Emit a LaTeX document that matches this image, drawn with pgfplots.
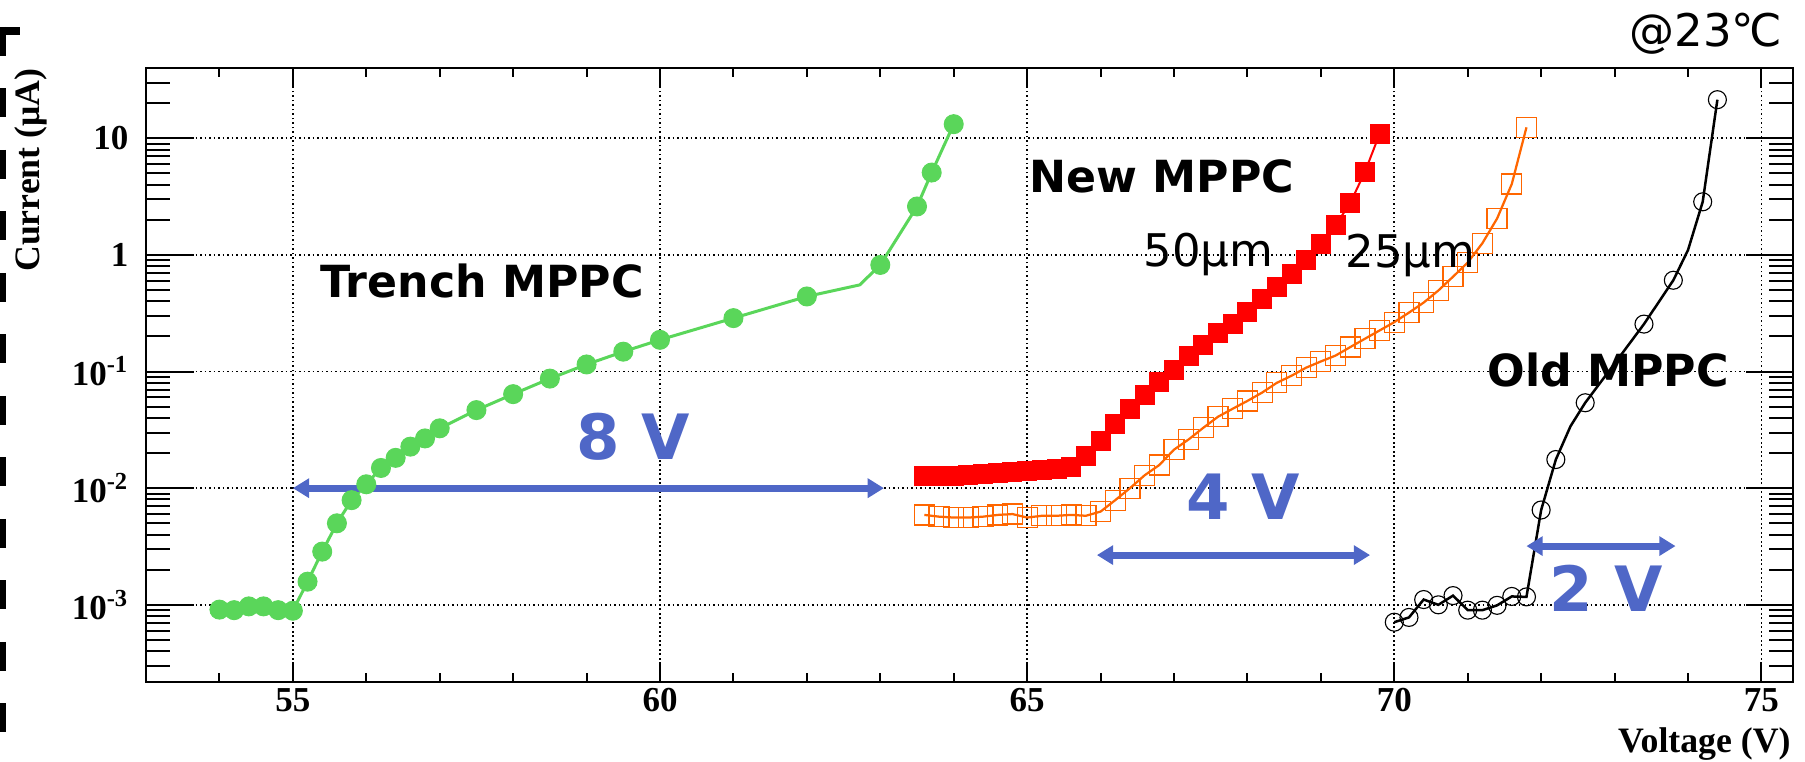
\documentclass[border=0pt]{standalone}
\usepackage{fontspec}
\setmainfont{DejaVu Sans}
\newfontfamily\tnr{Liberation Serif}
\usepackage{pgfplots}
\pgfplotsset{compat=1.18}
\usetikzlibrary{arrows.meta}
\definecolor{mgreen}{RGB}{90,214,90}
\definecolor{morange}{RGB}{255,102,0}
\definecolor{mblue}{RGB}{79,103,199}
\newcommand{\tickfont}{\tnr\bfseries\fontsize{14}{16}\selectfont}
\begin{document}
\begin{tikzpicture}
\path[use as bounding box] (0,0) rectangle (722pt,304.8pt);
% left dashed decoration
\fill (0,290.8pt) rectangle (8pt,294pt);
\draw[line width=2.4pt, dash pattern=on 11.6pt off 13pt] (1.2pt,294pt) -- (1.2pt,5pt);
% axis with long y ticks only
\begin{axis}[
  at={(58.4pt,32pt)}, anchor=south west, scale only axis,
  width=658.8pt, height=245.6pt,
  xmin=53, xmax=75.43, ymin=2.18e-4, ymax=40, ymode=log,
  xtick=\empty,
  ytick={1e-3,1e-2,1e-1,1,10}, yticklabels={},
  minor ytick={3e-4,4e-4,5e-4,6e-4,7e-4,8e-4,9e-4,
    2e-3,3e-3,4e-3,5e-3,6e-3,7e-3,8e-3,9e-3,
    2e-2,3e-2,4e-2,5e-2,6e-2,7e-2,8e-2,9e-2,
    0.2,0.3,0.4,0.5,0.6,0.7,0.8,0.9,2,3,4,5,6,7,8,9,20,30},
  major tick length=19pt, minor tick length=9.6pt,
  tick style={black, line width=0.8pt},
  axis line style={draw=none},
]
\end{axis}
% main axis
\begin{axis}[
  at={(58.4pt,32pt)}, anchor=south west, scale only axis,
  width=658.8pt, height=245.6pt,
  xmin=53, xmax=75.43, ymin=2.18e-4, ymax=40, ymode=log,
  xtick={55,60,65,70,75},
  minor xtick={53,54,56,57,58,59,61,62,63,64,66,67,68,69,71,72,73,74},
  ytick={1e-3,1e-2,1e-1,1,10},
  yticklabels={{10\textsuperscript{-3}},{10\textsuperscript{-2}},{10\textsuperscript{-1}},{1},{10}},
  xticklabels={55,60,65,70,75},
  xticklabel style={font=\tickfont, yshift=1pt},
  yticklabel style={font=\tickfont, xshift=-3.5pt},
  major tick length=8pt, minor tick length=3.6pt,
  tick style={black, line width=0.8pt},
  axis line style={line width=0.9pt},
  grid=major,
  major grid style={black, line width=0.7pt, dash pattern=on 0.7pt off 1.1pt},
]
% Trench MPPC
\addplot[mgreen, line width=1.2pt, no marks] coordinates {
(54.0,9.1e-4)(54.2,9.0e-4)(54.4,9.7e-4)(54.6,9.7e-4)(54.8,9.0e-4)(55.0,8.9e-4)
(55.2,1.58e-3)(55.4,2.86e-3)(55.6,5.0e-3)(55.8,7.9e-3)(56.0,1.08e-2)(56.2,1.49e-2)
(56.4,1.82e-2)(56.6,2.27e-2)(56.8,2.67e-2)(57.0,3.26e-2)(57.5,4.67e-2)(58.0,6.4e-2)
(58.5,8.7e-2)(59.0,0.115)(59.5,0.148)(60.0,0.187)(61.0,0.287)(62.0,0.44)(62.72,0.553)
(63.0,0.82)(63.5,2.6)(63.7,5.08)(64.0,13.2)};
\addplot[only marks, mark=*, mark size=3.8pt, mark options={draw=mgreen, fill=mgreen}] coordinates {
(54.0,9.1e-4)(54.2,9.0e-4)(54.4,9.7e-4)(54.6,9.7e-4)(54.8,9.0e-4)(55.0,8.9e-4)
(55.2,1.58e-3)(55.4,2.86e-3)(55.6,5.0e-3)(55.8,7.9e-3)(56.0,1.08e-2)(56.2,1.49e-2)
(56.4,1.82e-2)(56.6,2.27e-2)(56.8,2.67e-2)(57.0,3.26e-2)(57.5,4.67e-2)(58.0,6.4e-2)
(58.5,8.7e-2)(59.0,0.115)(59.5,0.148)(60.0,0.187)(61.0,0.287)(62.0,0.44)
(63.0,0.82)(63.5,2.6)(63.7,5.08)(64.0,13.2)};
% New MPPC 50um
\addplot[red, line width=0.8pt, mark=square*, mark size=3.8pt, mark options={draw=red, fill=red, line width=0pt}] coordinates {
(63.6,0.0128)(63.8,0.0128)(64.0,0.0128)(64.2,0.0129)(64.4,0.0132)(64.6,0.0134)
(64.8,0.0137)(65.0,0.0141)(65.2,0.0144)(65.4,0.0146)(65.6,0.0151)(65.8,0.019)
(66.0,0.0255)(66.2,0.0355)(66.4,0.0477)(66.6,0.0625)(66.8,0.082)(67.0,0.104)
(67.2,0.135)(67.4,0.170)(67.6,0.214)(67.8,0.258)(68.0,0.324)(68.2,0.422)
(68.4,0.531)(68.6,0.692)(68.8,0.90)(69.0,1.25)(69.2,1.79)(69.4,2.79)
(69.6,5.14)(69.8,10.9)};
% New MPPC 25um
\addplot[morange, line width=0.9pt, mark=square, mark size=4pt, mark options={line width=0.5pt}] coordinates {
(63.6,0.0059)(63.8,0.0057)(64.0,0.0056)(64.2,0.0056)(64.4,0.0057)(64.6,0.0059)
(64.8,0.0060)(65.0,0.0056)(65.2,0.0058)(65.4,0.0058)(65.6,0.0059)(65.8,0.0058)
(66.0,0.0063)(66.2,0.0079)(66.4,0.0100)(66.6,0.0129)(66.8,0.0158)(67.0,0.0214)
(67.2,0.0262)(67.4,0.033)(67.6,0.041)(67.8,0.048)(68.0,0.056)(68.2,0.066)
(68.4,0.080)(68.6,0.092)(68.8,0.108)(69.0,0.122)(69.2,0.137)(69.4,0.162)
(69.6,0.191)(69.8,0.225)(70.0,0.265)(70.2,0.32)(70.4,0.39)(70.6,0.495)
(70.8,0.65)(71.0,0.86)(71.2,1.26)(71.4,2.05)(71.6,4.05)(71.8,12.4)};
% Old MPPC
\addplot[black, line width=1pt, no marks] coordinates {
(70.0,7.1e-4)(70.2,7.8e-4)(70.4,1.11e-3)(70.6,1.0e-3)(70.8,1.2e-3)(71.0,9.0e-4)
(71.2,9.0e-4)(71.4,9.9e-4)(71.6,1.18e-3)(71.8,1.17e-3)(72.0,6.5e-3)(72.2,1.76e-2)
(72.4,0.034)(72.6,0.054)(73.0,0.117)(73.4,0.255)(73.8,0.606)(74.0,1.1)(74.2,2.85)(74.4,21.4)};
\addplot[only marks, mark=o, mark size=3.6pt, mark options={black, line width=0.45pt}] coordinates {
(70.0,7.1e-4)(70.2,7.8e-4)(70.4,1.11e-3)(70.6,1.0e-3)(70.8,1.2e-3)(71.0,9.0e-4)
(71.2,9.0e-4)(71.4,9.9e-4)(71.6,1.18e-3)(71.8,1.17e-3)(72.0,6.5e-3)(72.2,1.76e-2)
(72.6,0.054)(73.4,0.255)(73.8,0.606)(74.2,2.85)(74.4,21.4)};
% arrows
\draw[mblue, line width=2.8pt, {Triangle[length=6.5pt,width=7.5pt]}-{Triangle[length=6.5pt,width=7.5pt]}] (55.0,0.01) -- (63.05,0.01);
\draw[mblue, line width=2.8pt, {Triangle[length=6.5pt,width=7.5pt]}-{Triangle[length=6.5pt,width=7.5pt]}] (65.95,2.67e-3) -- (69.67,2.67e-3);
\draw[mblue, line width=2.8pt, {Triangle[length=6.5pt,width=7.5pt]}-{Triangle[length=6.5pt,width=7.5pt]}] (71.8,3.19e-3) -- (73.83,3.19e-3);
\end{axis}
% texts
\node[anchor=base west, inner sep=0, font=\fontsize{17.7}{20}\selectfont\bfseries] at (128pt,185.6pt) {Trench MPPC};
\node[anchor=base west, inner sep=0, font=\fontsize{17.7}{20}\selectfont\bfseries] at (411.6pt,227.6pt) {New MPPC};
\node[anchor=base west, inner sep=0, font=\fontsize{17.7}{20}\selectfont\bfseries] at (594.8pt,150pt) {Old MPPC};
\node[anchor=base west, inner sep=0, font=\fontsize{18}{20}\selectfont] at (457.2pt,198pt) {50μm};
\node[anchor=base west, inner sep=0, font=\fontsize{18}{20}\selectfont] at (538pt,197.6pt) {25μm};
\node[anchor=base west, inner sep=0, text=mblue, font=\fontsize{25}{28}\selectfont\bfseries] at (230.4pt,120.8pt) {8 V};
\node[anchor=base west, inner sep=0, text=mblue, font=\fontsize{25}{28}\selectfont\bfseries] at (474.4pt,96.8pt) {4 V};
\node[anchor=base west, inner sep=0, text=mblue, font=\fontsize{25}{28}\selectfont\bfseries] at (619.6pt,60pt) {2 V};
\node[anchor=base east, inner sep=0, font=\fontsize{18}{20}\selectfont] at (713.2pt,286pt) {@23℃};
\node[anchor=base east, inner sep=0, rotate=90, font=\tnr\bfseries\fontsize{14.3}{16}\selectfont] at (16pt,277.6pt) {Current (μA)};
\node[anchor=base east, inner sep=0, font=\tnr\bfseries\fontsize{14.3}{16}\selectfont] at (716.4pt,3.6pt) {Voltage (V)};
\end{tikzpicture}
\end{document}
